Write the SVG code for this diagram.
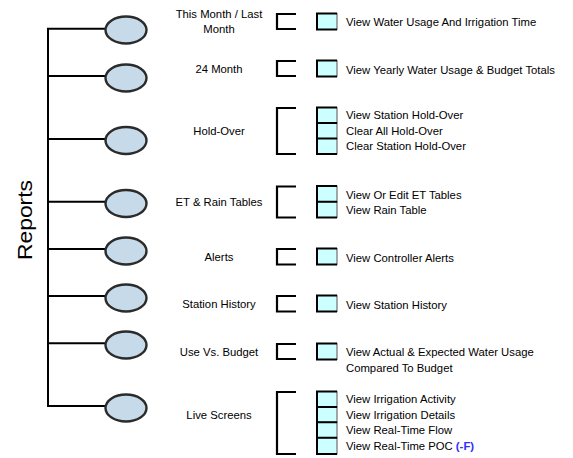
<svg xmlns="http://www.w3.org/2000/svg" width="573" height="458" viewBox="0 0 573 458">
<style>
.conn{stroke:#000;stroke-width:2;fill:none}
.oval{fill:#c6dae9;stroke:#2b2b2b;stroke-width:2.4}
.lbl{font-family:"Liberation Sans",Arial,sans-serif;font-size:11.3px;fill:#000;text-anchor:middle}
.txt{font-family:"Liberation Sans",Arial,sans-serif;font-size:11.3px;fill:#000}
.br{stroke:#000;stroke-width:2.2;fill:none}
.bx{fill:#ccffff;stroke:#555;stroke-width:1}
.bxe{stroke:#000;stroke-width:2;fill:none}
.f{fill:#2f2fff;font-weight:bold}
</style>
<rect width="573" height="458" fill="#fff"/>
<text transform="translate(31.5,220) rotate(-90)" font-family="'Liberation Sans',Arial,sans-serif" font-size="19.5" text-anchor="middle" textLength="80" lengthAdjust="spacingAndGlyphs">Reports</text>
<g id="connectors">
<line class="conn" x1="48" y1="28.5" x2="48" y2="407"/>
<line class="conn" x1="47" y1="28.7" x2="105" y2="28.7"/>
<line class="conn" x1="47" y1="76" x2="105" y2="76"/>
<line class="conn" x1="47" y1="139" x2="105" y2="139"/>
<line class="conn" x1="47" y1="201.7" x2="105" y2="201.7"/>
<line class="conn" x1="47" y1="249" x2="105" y2="249"/>
<line class="conn" x1="47" y1="296" x2="105" y2="296"/>
<line class="conn" x1="47" y1="343.3" x2="105" y2="343.3"/>
<line class="conn" x1="47" y1="406" x2="105" y2="406"/>
</g>
<g id="n1">
<ellipse class="oval" cx="126" cy="30" rx="20.5" ry="13.5"/>
<text class="lbl" x="219" y="18">This Month / Last</text>
<text class="lbl" x="219" y="32.5">Month</text>
<path class="br" d="M296,14 H277 V29 H296"/>
<rect class="bx" x="316.5" y="13.5" width="20.5" height="16"/>
<path class="bxe" d="M337,13.5 H317 V29.5 H337"/>
<text class="txt" x="346" y="26">View Water Usage And Irrigation Time</text>
</g>
<g id="n2">
<ellipse class="oval" cx="126" cy="78" rx="20.5" ry="13.5"/>
<text class="lbl" x="219" y="72.7">24 Month</text>
<path class="br" d="M296,61 H277 V76 H296"/>
<rect class="bx" x="316.5" y="60.5" width="20.5" height="16"/>
<path class="bxe" d="M337,60.5 H317 V76.5 H337"/>
<text class="txt" x="346" y="73.5">View Yearly Water Usage &amp; Budget Totals</text>
</g>
<g id="n3">
<ellipse class="oval" cx="126" cy="140.5" rx="20.5" ry="13.5"/>
<text class="lbl" x="219" y="134.5">Hold-Over</text>
<path class="br" d="M296,108 H277 V154 H296"/>
<rect class="bx" x="316.5" y="107.5" width="20.5" height="15.5"/>
<rect class="bx" x="316.5" y="123" width="20.5" height="15.5"/>
<rect class="bx" x="316.5" y="138.5" width="20.5" height="15.5"/>
<path class="bxe" d="M337,107.5 H317 V154 H337 M317,123 H337 M317,138.5 H337"/>
<text class="txt" x="346" y="119">View Station Hold-Over</text>
<text class="txt" x="346" y="134.7">Clear All Hold-Over</text>
<text class="txt" x="346" y="150">Clear Station Hold-Over</text>
</g>
<g id="n4">
<ellipse class="oval" cx="126" cy="203.5" rx="20.5" ry="13.5"/>
<text class="lbl" x="219" y="205.7">ET &amp; Rain Tables</text>
<path class="br" d="M296,186.5 H277 V217.5 H296"/>
<rect class="bx" x="316.5" y="186" width="20.5" height="15.7"/>
<rect class="bx" x="316.5" y="201.7" width="20.5" height="15.8"/>
<path class="bxe" d="M337,186 H317 V217.5 H337 M317,201.7 H337"/>
<text class="txt" x="346" y="198.5">View Or Edit ET Tables</text>
<text class="txt" x="346" y="214.3">View Rain Table</text>
</g>
<g id="n5">
<ellipse class="oval" cx="126" cy="251" rx="20.5" ry="13.5"/>
<text class="lbl" x="219" y="261">Alerts</text>
<path class="br" d="M296,249 H277 V264.5 H296"/>
<rect class="bx" x="316.5" y="248.5" width="20.5" height="16"/>
<path class="bxe" d="M337,248.5 H317 V264.5 H337"/>
<text class="txt" x="346" y="261.5">View Controller Alerts</text>
</g>
<g id="n6">
<ellipse class="oval" cx="126" cy="298" rx="20.5" ry="13.5"/>
<text class="lbl" x="219" y="308">Station History</text>
<path class="br" d="M296,296 H277 V311.5 H296"/>
<rect class="bx" x="316.5" y="295.5" width="20.5" height="16"/>
<path class="bxe" d="M337,295.5 H317 V311.5 H337"/>
<text class="txt" x="346" y="308.5">View Station History</text>
</g>
<g id="n7">
<ellipse class="oval" cx="126" cy="345" rx="20.5" ry="13.5"/>
<text class="lbl" x="219" y="355.5">Use Vs. Budget</text>
<path class="br" d="M296,344 H277 V359 H296"/>
<rect class="bx" x="316.5" y="343.5" width="20.5" height="16"/>
<path class="bxe" d="M337,343.5 H317 V359.5 H337"/>
<text class="txt" x="346" y="356">View Actual &amp; Expected Water Usage</text>
<text class="txt" x="346" y="371.7">Compared To Budget</text>
</g>
<g id="n8">
<ellipse class="oval" cx="126" cy="408" rx="20.5" ry="13.5"/>
<text class="lbl" x="219" y="418.5">Live Screens</text>
<path class="br" d="M296,392 H277 V454 H296"/>
<rect class="bx" x="316.5" y="391.5" width="20.5" height="15.5"/>
<rect class="bx" x="316.5" y="407" width="20.5" height="15.3"/>
<rect class="bx" x="316.5" y="422.3" width="20.5" height="15.4"/>
<rect class="bx" x="316.5" y="437.7" width="20.5" height="16.3"/>
<path class="bxe" d="M337,391.5 H317 V454 H337 M317,407 H337 M317,422.3 H337 M317,437.7 H337"/>
<text class="txt" x="346" y="403">View Irrigation Activity</text>
<text class="txt" x="346" y="418.8">View Irrigation Details</text>
<text class="txt" x="346" y="434.3">View Real-Time Flow</text>
<text class="txt" x="346" y="450">View Real-Time POC <tspan class="f">(-F)</tspan></text>
</g>
</svg>
